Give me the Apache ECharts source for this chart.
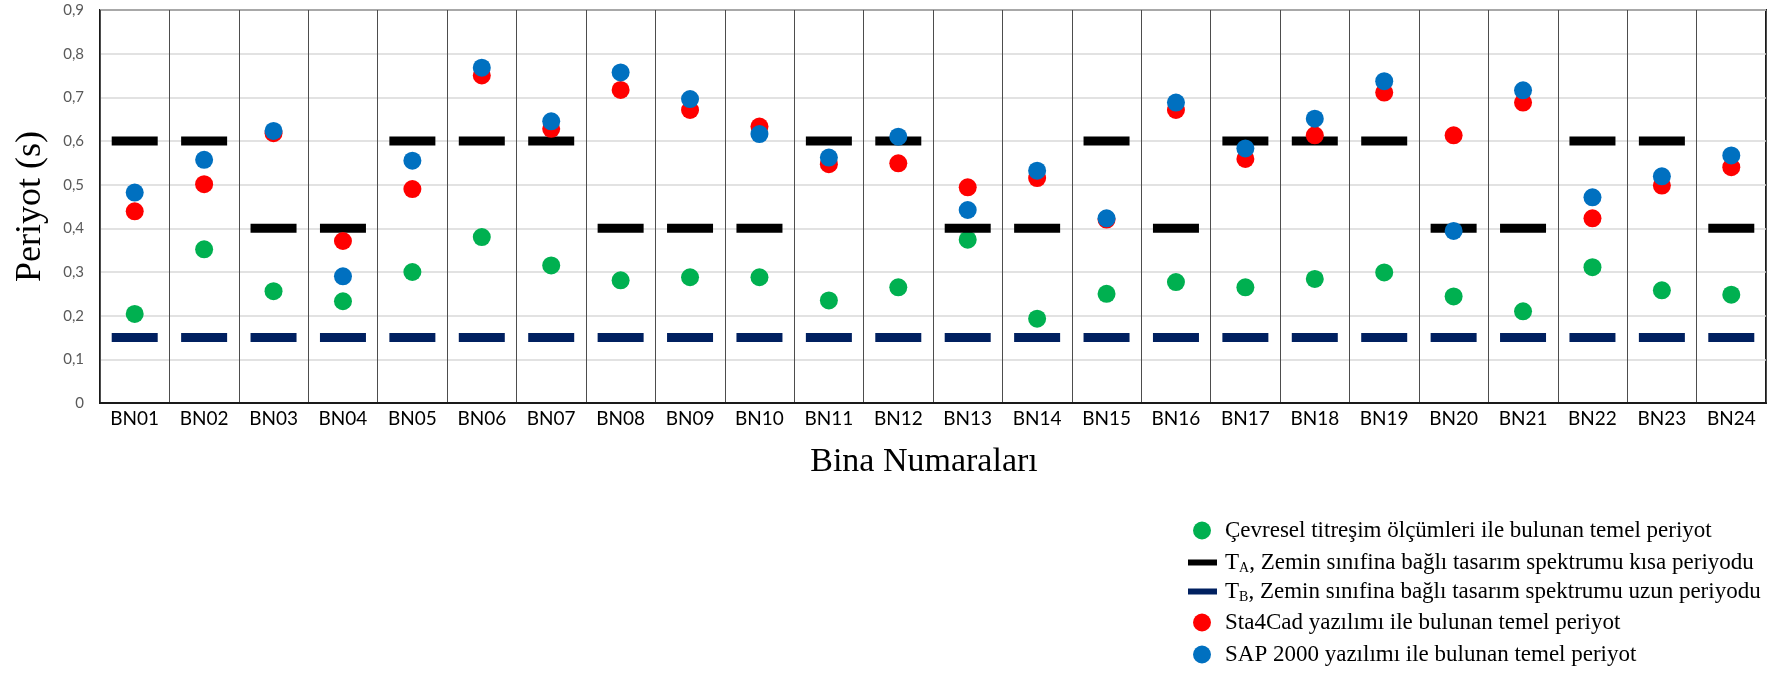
<!DOCTYPE html>
<html>
<head>
<meta charset="utf-8">
<script src="https://cdn.jsdelivr.net/npm/echarts@6/dist/echarts.min.js"></script>
<style>
html,body{margin:0;padding:0;background:#fff;}
#c{width:1780px;height:675px;}
</style>
</head>
<body>
<div id="c"></div>
<script>
const categories = ['BN01','BN02','BN03','BN04','BN05','BN06','BN07','BN08','BN09','BN10','BN11','BN12','BN13','BN14','BN15','BN16','BN17','BN18','BN19','BN20','BN21','BN22','BN23','BN24'];
const cevresel = [0.204,0.352,0.256,0.233,0.300,0.380,0.315,0.281,0.288,0.288,0.235,0.265,0.374,0.193,0.250,0.277,0.265,0.284,0.299,0.244,0.210,0.311,0.258,0.248];
const TA = [0.6,0.6,0.4,0.4,0.6,0.6,0.6,0.4,0.4,0.4,0.6,0.6,0.4,0.4,0.6,0.4,0.6,0.6,0.6,0.4,0.4,0.6,0.6,0.4];
const TB = [0.15,0.15,0.15,0.15,0.15,0.15,0.15,0.15,0.15,0.15,0.15,0.15,0.15,0.15,0.15,0.15,0.15,0.15,0.15,0.15,0.15,0.15,0.15,0.15];
const sta4cad = [0.439,0.501,0.618,0.371,0.490,0.750,0.628,0.717,0.671,0.633,0.547,0.549,0.494,0.515,0.420,0.671,0.559,0.613,0.711,0.613,0.688,0.423,0.498,0.540];
const sap2000 = [0.482,0.557,0.623,0.290,0.555,0.768,0.645,0.757,0.696,0.616,0.562,0.610,0.442,0.532,0.423,0.688,0.583,0.651,0.737,0.394,0.716,0.471,0.519,0.567];
const yTicks = ['0','0,1','0,2','0,3','0,4','0,5','0,6','0,7','0,8','0,9'];

const names = [
  'Çevresel titreşim ölçümleri ile bulunan temel periyot',
  'TA, Zemin sınıfina bağlı tasarım spektrumu kısa periyodu',
  'TB, Zemin sınıfina bağlı tasarım spektrumu uzun periyodu',
  'Sta4Cad yazılımı ile bulunan temel periyot',
  'SAP 2000 yazılımı ile bulunan temel periyot'
];
const colors = ['#00B050','#000000','#002060','#FF0000','#0070C0'];
const SERIF = '"Liberation Serif","DejaVu Serif",serif';
const SANS = 'Lato, "Open Sans", sans-serif';

const chart = echarts.init(document.getElementById('c'));

const richText = {
  n: {fontFamily: SERIF, fontSize: 23, color: '#000', lineHeight: 26},
  s: {fontFamily: SERIF, fontSize: 14, color: '#000', lineHeight: 14, verticalAlign: 'bottom'}
};
function legendFmt(name){
  if (name.startsWith('TA,')) return '{n|T}{s|A}{n|' + name.slice(2) + '}';
  if (name.startsWith('TB,')) return '{n|T}{s|B}{n|' + name.slice(2) + '}';
  return '{n|' + name + '}';
}
const legendCenters = [532, 564, 593, 624, 656];
const legends = names.map((nm, i) => {
  const isLine = (i === 1 || i === 2);
  return {
    left: isLine ? 1188 : 1193,
    top: legendCenters[i] - 13,
    orient: 'vertical',
    itemWidth: isLine ? 29 : 18,
    itemHeight: isLine ? 6 : 18,
    padding: 0,
    data: [{name: nm, icon: isLine ? 'rect' : 'circle'}],
    formatter: legendFmt,
    textStyle: {fontFamily: SERIF, fontSize: 23, color: '#000', padding: [0,0,0,isLine ? 3 : 9], rich: richText}
  };
});

function scatter(idx, data, symbol, size){
  return {
    name: names[idx],
    type: 'scatter',
    data: data,
    symbol: symbol,
    symbolSize: size,
    itemStyle: {color: colors[idx], opacity: 1},
    emphasis: {disabled: true},
    z: 2 + idx
  };
}

chart.setOption({
  animation: false,
  backgroundColor: '#fff',
  grid: {left: 100, right: 14, top: 10, bottom: 272, show: true, borderColor: '#1a1a1a', borderWidth: 2, containLabel: false},
  legend: legends,
  xAxis: {
    type: 'category',
    data: categories,
    boundaryGap: true,
    axisTick: {show: false},
    axisLine: {show: true, lineStyle: {color: '#1a1a1a', width: 2}},
    splitLine: {show: true, lineStyle: {color: '#4d4d4d', width: 1}},
    axisLabel: {color: '#000', fontSize: 19, fontFamily: SANS, margin: 6},
    name: 'Bina Numaraları',
    nameLocation: 'middle',
    nameGap: 42,
    nameTextStyle: {fontFamily: SERIF, fontSize: 34, color: '#000', padding: [0,18,0,0]}
  },
  yAxis: {
    type: 'value',
    min: 0, max: 0.9, interval: 0.1,
    axisLine: {show: false},
    axisTick: {show: false},
    splitLine: {show: true, lineStyle: {color: '#d9d9d9', width: 1.5}},
    axisLabel: {
      color: '#595959', fontSize: 15, fontFamily: SANS, margin: 16,
      formatter: (v) => yTicks[Math.round(v * 10)]
    },
    name: 'Periyot (s)',
    nameLocation: 'middle',
    nameGap: 51,
    nameTextStyle: {fontFamily: SERIF, fontSize: 36, color: '#000'}
  },
  series: [
    scatter(1, TA, 'rect', [46, 9]),
    scatter(2, TB, 'rect', [46, 9]),
    scatter(0, cevresel, 'circle', 18),
    scatter(3, sta4cad, 'circle', 18),
    scatter(4, sap2000, 'circle', 18)
  ]
});
</script>
</body>
</html>
